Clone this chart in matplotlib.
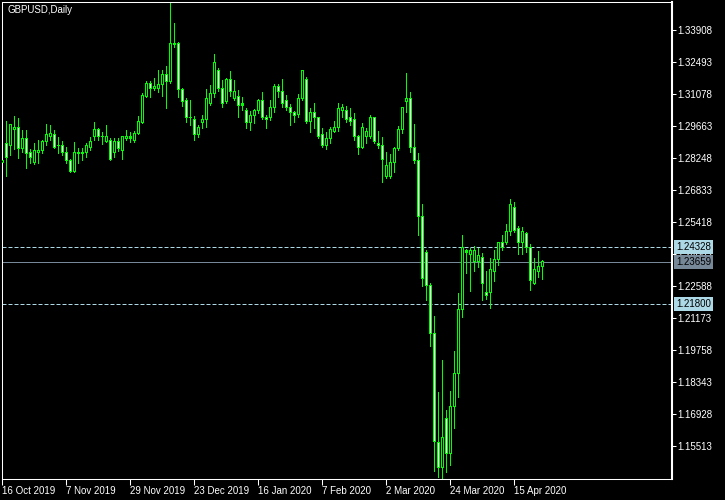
import numpy as np
import matplotlib.pyplot as plt
from matplotlib.patches import Rectangle

plt.rcParams['font.family'] = ['Liberation Sans', 'DejaVu Sans']

chart_title = "GBPUSD,Daily"

# Daily OHLC bars, 16 Oct 2019 .. 24 Apr 2020
opens = [1.2803, 1.2887, 1.2882, 1.2949, 1.2958, 1.2869, 1.2909, 1.2847, 1.2807, 1.2851,
         1.2856, 1.2896, 1.2922, 1.2927, 1.2882, 1.2878, 1.2851, 1.2816, 1.2767, 1.2847,
         1.2845, 1.2847, 1.2873, 1.2918, 1.2949, 1.2922, 1.2900, 1.2904, 1.2851, 1.2896,
         1.2860, 1.2909, 1.2913, 1.2904, 1.2935, 1.2984, 1.3099, 1.3156, 1.3130, 1.3134,
         1.3152, 1.3192, 1.3161, 1.3325, 1.3329, 1.3126, 1.3077, 1.3006, 1.2993, 1.2927,
         1.2980, 1.2993, 1.3064, 1.3112, 1.3210, 1.3134, 1.3073, 1.3170, 1.3090, 1.3095,
         1.3064, 1.3037, 1.2984, 1.3011, 1.3037, 1.3077, 1.3006, 1.3006, 1.3046, 1.3139,
         1.3121, 1.3077, 1.3050, 1.3028, 1.3019, 1.3090, 1.3170, 1.2988, 1.3028, 1.3002,
         1.2927, 1.2882, 1.2913, 1.2944, 1.2958, 1.3033, 1.3033, 1.3002, 1.2993, 1.2918,
         1.2873, 1.2922, 1.2922, 1.3002, 1.2891, 1.2878, 1.2745, 1.2745, 1.2807, 1.2869,
         1.2949, 1.3073, 1.3086, 1.2873, 1.2816, 1.2568, 1.2409, 1.2259, 1.2051, 1.1569,
         1.1458, 1.1671, 1.1520, 1.1728, 1.1874, 1.2153, 1.2409, 1.2400, 1.2365, 1.2365,
         1.2387, 1.2228, 1.2228, 1.2321, 1.2374, 1.2449, 1.2449, 1.2498, 1.2608, 1.2511,
         1.2449, 1.2489, 1.2427, 1.2272, 1.2325, 1.2343]
highs = [1.2829, 1.2988, 1.2975, 1.3011, 1.3002, 1.2949, 1.2949, 1.2865, 1.2891, 1.2904,
         1.2904, 1.2975, 1.2971, 1.2949, 1.2918, 1.2900, 1.2873, 1.2820, 1.2896, 1.2869,
         1.2869, 1.2891, 1.2918, 1.2984, 1.2958, 1.2940, 1.2971, 1.2913, 1.2913, 1.2913,
         1.2922, 1.2949, 1.2940, 1.2944, 1.3011, 1.3112, 1.3165, 1.3165, 1.3179, 1.3214,
         1.3214, 1.3232, 1.3510, 1.3422, 1.3338, 1.3134, 1.3090, 1.3081, 1.3011, 1.2971,
         1.3015, 1.3130, 1.3148, 1.3285, 1.3223, 1.3170, 1.3179, 1.3210, 1.3170, 1.3126,
         1.3095, 1.3046, 1.3033, 1.3042, 1.3086, 1.3117, 1.3015, 1.3081, 1.3152, 1.3152,
         1.3174, 1.3103, 1.3064, 1.3033, 1.3108, 1.3214, 1.3183, 1.3046, 1.3068, 1.3006,
         1.2958, 1.2940, 1.2962, 1.2988, 1.3068, 1.3064, 1.3055, 1.3046, 1.3024, 1.2927,
         1.2980, 1.2958, 1.3015, 1.3006, 1.2944, 1.2918, 1.2851, 1.2843, 1.2873, 1.2966,
         1.3050, 1.3201, 1.3117, 1.2975, 1.2847, 1.2621, 1.2418, 1.2272, 1.2126, 1.1790,
         1.1932, 1.1711, 1.1795, 1.1971, 1.2228, 1.2484, 1.2422, 1.2427, 1.2436, 1.2427,
         1.2405, 1.2325, 1.2383, 1.2418, 1.2436, 1.2484, 1.2533, 1.2644, 1.2630, 1.2524,
         1.2520, 1.2498, 1.2444, 1.2383, 1.2414, 1.2374]
lows = [1.2781, 1.2745, 1.2838, 1.2865, 1.2825, 1.2851, 1.2781, 1.2803, 1.2798, 1.2803,
        1.2847, 1.2882, 1.2904, 1.2869, 1.2847, 1.2838, 1.2803, 1.2763, 1.2763, 1.2803,
        1.2816, 1.2829, 1.2860, 1.2904, 1.2904, 1.2887, 1.2896, 1.2816, 1.2829, 1.2856,
        1.2820, 1.2904, 1.2896, 1.2896, 1.2931, 1.2980, 1.3095, 1.3095, 1.3126, 1.3117,
        1.3099, 1.3046, 1.3156, 1.3316, 1.3095, 1.3055, 1.2984, 1.2971, 1.2904, 1.2918,
        1.2958, 1.2962, 1.3059, 1.3095, 1.3121, 1.3050, 1.3068, 1.3099, 1.3081, 1.3006,
        1.3037, 1.2958, 1.2949, 1.2980, 1.3024, 1.2997, 1.2958, 1.2993, 1.3028, 1.3095,
        1.3050, 1.3037, 1.2971, 1.2984, 1.3006, 1.3081, 1.2980, 1.2940, 1.2958, 1.2913,
        1.2873, 1.2865, 1.2891, 1.2940, 1.2944, 1.3006, 1.2984, 1.2971, 1.2904, 1.2843,
        1.2869, 1.2891, 1.2913, 1.2891, 1.2869, 1.2719, 1.2736, 1.2736, 1.2763, 1.2860,
        1.2935, 1.3028, 1.2851, 1.2803, 1.2484, 1.2259, 1.2197, 1.1994, 1.1441, 1.1414,
        1.1405, 1.1436, 1.1467, 1.1631, 1.1768, 1.2122, 1.2316, 1.2237, 1.2325, 1.2343,
        1.2197, 1.2201, 1.2162, 1.2281, 1.2352, 1.2418, 1.2444, 1.2484, 1.2498, 1.2400,
        1.2400, 1.2409, 1.2241, 1.2268, 1.2299, 1.2290]
closes = [1.2816, 1.2829, 1.2971, 1.2958, 1.2869, 1.2909, 1.2843, 1.2829, 1.2856, 1.2860,
          1.2900, 1.2927, 1.2931, 1.2873, 1.2878, 1.2847, 1.2812, 1.2767, 1.2851, 1.2843,
          1.2849, 1.2878, 1.2896, 1.2949, 1.2918, 1.2918, 1.2922, 1.2820, 1.2896, 1.2865,
          1.2918, 1.2918, 1.2918, 1.2935, 1.2988, 1.3103, 1.3156, 1.3130, 1.3139, 1.3152,
          1.3192, 1.3161, 1.3333, 1.3333, 1.3126, 1.3073, 1.3002, 1.3002, 1.2927, 1.2958,
          1.2993, 1.3086, 1.3112, 1.3245, 1.3130, 1.3068, 1.3170, 1.3117, 1.3117, 1.3059,
          1.3059, 1.2984, 1.3015, 1.3037, 1.3077, 1.3006, 1.2997, 1.3046, 1.3139, 1.3117,
          1.3068, 1.3050, 1.3028, 1.3015, 1.3090, 1.3210, 1.2988, 1.3028, 1.3002, 1.2918,
          1.2878, 1.2913, 1.2949, 1.2958, 1.3042, 1.3046, 1.2997, 1.2988, 1.2918, 1.2873,
          1.2958, 1.2940, 1.3002, 1.2896, 1.2878, 1.2820, 1.2790, 1.2807, 1.2869, 1.2949,
          1.3046, 1.3086, 1.2873, 1.2812, 1.2568, 1.2290, 1.2259, 1.2051, 1.1573, 1.1458,
          1.1591, 1.1520, 1.1728, 1.1874, 1.2153, 1.2427, 1.2414, 1.2414, 1.2418, 1.2392,
          1.2268, 1.2215, 1.2330, 1.2378, 1.2449, 1.2431, 1.2498, 1.2621, 1.2506, 1.2449,
          1.2502, 1.2427, 1.2281, 1.2330, 1.2343, 1.23659]

date_labels = ["16 Oct 2019", "7 Nov 2019", "29 Nov 2019", "23 Dec 2019", "16 Jan 2020",
               "7 Feb 2020", "2 Mar 2020", "24 Mar 2020", "15 Apr 2020"]
label_step = 16  # one date label every 16 bars

price_ticks = [1.15513, 1.16928, 1.18343, 1.19758, 1.21173, 1.22588, 1.24003,
               1.25418, 1.26833, 1.28248, 1.29663, 1.31078, 1.32493, 1.33908]

level_upper = 1.24328
level_lower = 1.21800
last_price = closes[-1]

green = '#00ff00'
light_blue = '#add8e6'
slate = '#778899'

fig = plt.figure(figsize=(7.25, 5), dpi=100, facecolor='black')
ax = fig.add_axes([2 / 725, 21 / 500, 670 / 725, 477 / 500])
ax.set_facecolor('black')
ax.set_xlim(-0.075, 167.425)
ax.set_ylim(1.14054, 1.35147)

n = len(opens)
x = np.arange(n)

# size of one screen pixel in price units, for the 1px body outline
px = (1.35147 - 1.14054) / 477

# wicks
ax.vlines(x, lows, highs, color=green, linewidth=0.72, antialiased=False, zorder=2)

# bodies: green 3px box, inner 1px column white = down day, black = up day
for i in range(n):
    o, c = opens[i], closes[i]
    lo, hi = min(o, c), max(o, c)
    ax.add_patch(Rectangle((i - 0.375, lo - px / 2), 0.75, hi - lo + px,
                           facecolor=green, edgecolor='none', antialiased=False, zorder=3))
    if hi - lo > 1.5 * px:
        face = 'white' if c < o else 'black'
        ax.add_patch(Rectangle((i - 0.125, lo + px / 2), 0.25, hi - lo - px,
                               facecolor=face, edgecolor='none', antialiased=False, zorder=4))

# price levels
ax.axhline(level_upper, color=light_blue, linewidth=0.72, linestyle=(0, (4, 2)), zorder=1)
ax.axhline(level_lower, color=light_blue, linewidth=0.72, linestyle=(0, (4, 2)), zorder=1)
ax.axhline(last_price, color=slate, linewidth=0.72, zorder=1)

# right-hand price scale
ax.yaxis.tick_right()
ax.set_yticks(price_ticks)
ax.set_yticklabels([f"{p:.5f}" for p in price_ticks])
ax.tick_params(axis='y', colors='white', labelsize=7, length=3, width=0.75, pad=1)

# date axis
ax.set_xticks(x[::label_step][:len(date_labels)])
ax.set_xticklabels(date_labels, ha='left')
ax.tick_params(axis='x', colors='white', labelsize=7, length=4, width=0.75, pad=1)

for side in ['top', 'left', 'bottom']:
    ax.spines[side].set_color('white')
    ax.spines[side].set_linewidth(0.75)
ax.spines['right'].set_color('white')
ax.spines['right'].set_linewidth(1.5)

# price tags on the scale
for price, fc in [(level_upper, light_blue), (last_price, slate), (level_lower, light_blue)]:
    ax.annotate(f"{price:.5f}", xy=(1, price), xycoords=('axes fraction', 'data'),
                xytext=(4, 0), textcoords='offset pixels', ha='left', va='center',
                fontsize=7, color='black', zorder=10, annotation_clip=False,
                bbox=dict(boxstyle='square,pad=0.2', fc=fc, ec='none'))

ax.annotate(chart_title, xy=(0, 1), xycoords='axes fraction', xytext=(5, -3),
            textcoords='offset pixels', ha='left', va='top', fontsize=7, color='white')

fig.savefig('out.png', dpi=100, facecolor='black')
